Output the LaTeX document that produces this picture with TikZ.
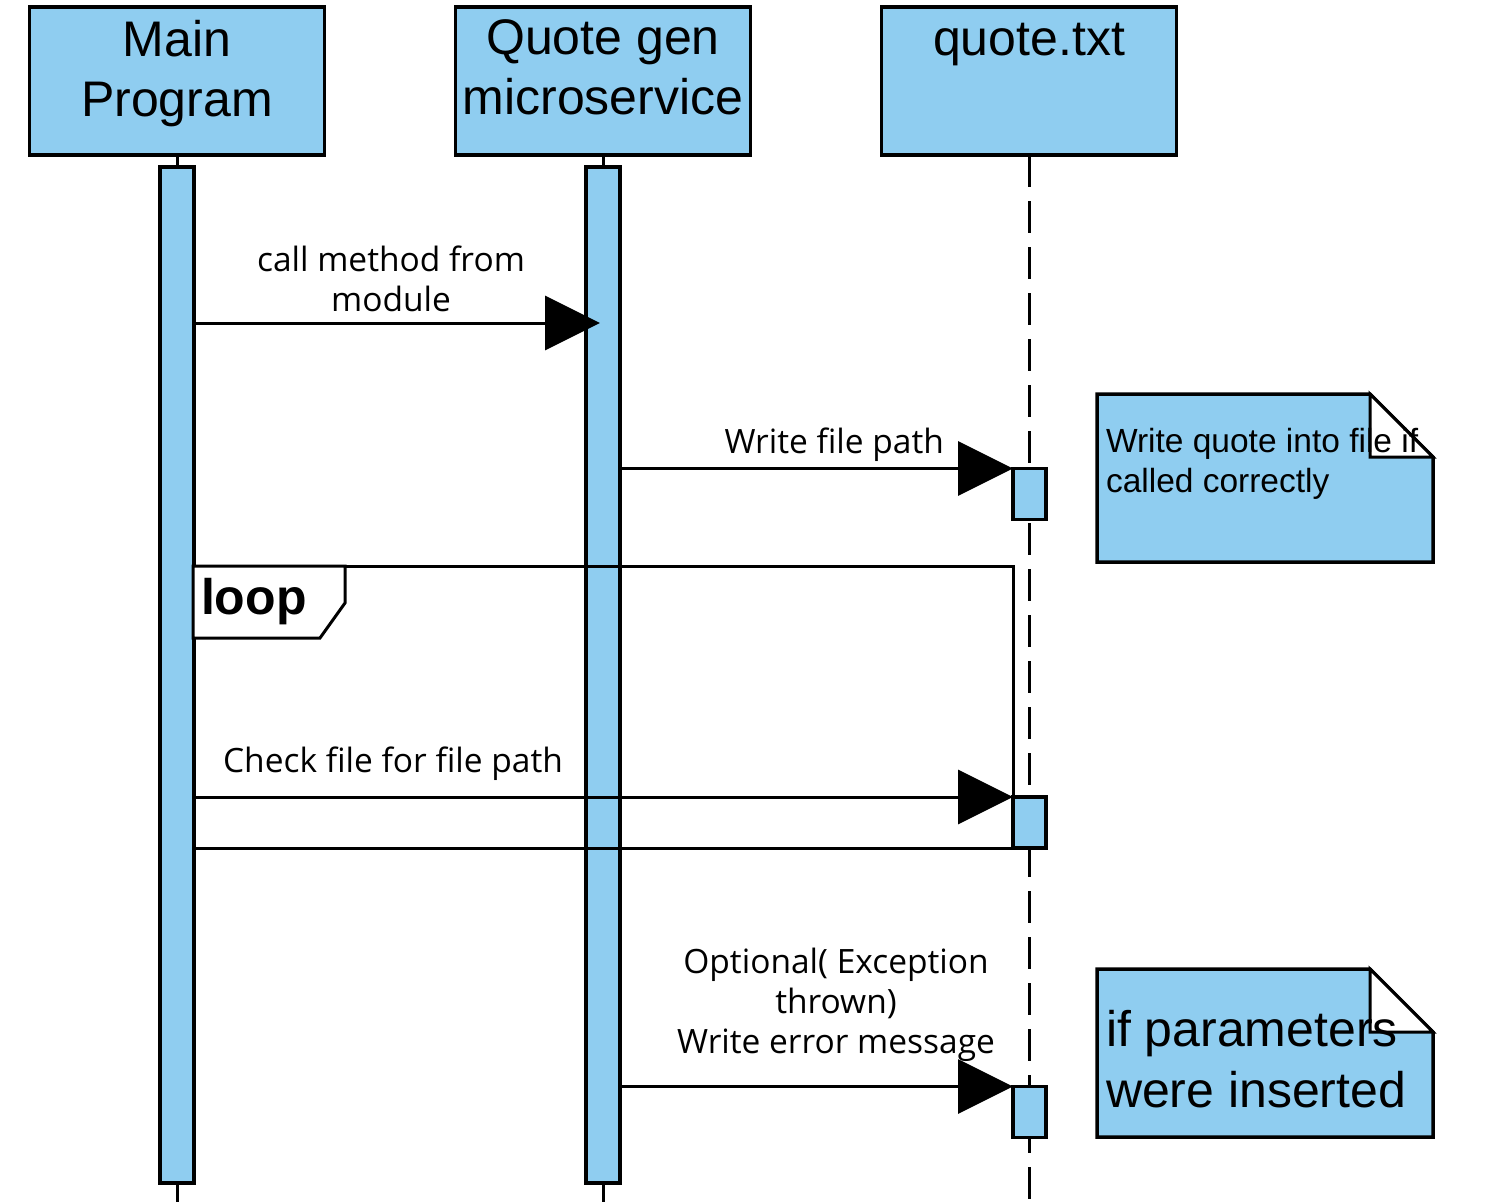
\documentclass[tikz,border=0pt]{standalone}
\usepackage{fontspec}
\setmainfont{Liberation Sans}
\newfontfamily\msgfont{Open Sans}
\usetikzlibrary{arrows.meta}
\definecolor{seqblue}{HTML}{8FCDF0}

\begin{document}
\begin{tikzpicture}[x=1pt,y=-1pt,
      every node/.style={inner sep=0pt,outer sep=0pt},
      head/.style={draw,fill=seqblue,line width=3.5pt,minimum width=295pt,minimum height=148pt},
      headtxt/.style={font=\fontsize{50}{60}\selectfont,align=center},
      bar/.style={draw,fill=seqblue,line width=3.5pt,minimum width=34pt,minimum height=1016pt},
      act/.style={draw,fill=seqblue,line width=3.5pt,minimum width=33pt,minimum height=51pt},
      life/.style={line width=3pt},
      msg/.style={line width=3pt,-{Triangle[length=55pt,width=54pt]}},
      msgtxt/.style={font=\msgfont\fontsize{33.5}{40}\selectfont,align=center},
      notebox/.style={draw,fill=seqblue,line width=3.5pt},
      fold/.style={draw,fill=white,line width=3pt,line join=miter},
      notetxt/.style={align=left,anchor=north west}
    ]
  \useasboundingbox (0,0) rectangle (1496,1202);
  \node[head,label={[headtxt,anchor=north,yshift=-13pt]north:Main\\Program}] (main) at (177,81) {};
  \node[head,label={[headtxt,anchor=north,yshift=-13pt]north:Quote gen\\microservice}] (quotegen) at (603,81) {};
  \node[head,label={[headtxt,anchor=north,yshift=-16pt]north:quote.txt}] (quotetxt) at (1029,81) {};
  \coordinate (mainend) at (177,1202);
  \coordinate (genend) at (603,1202);
  \coordinate (txtend) at (1029,1202);
  \draw[life] (main.south) -- (mainend);
  \draw[life] (quotegen.south) -- (genend);
  \draw[life,dash pattern=on 32pt off 14pt] (quotetxt.south) -- (txtend);
  \node[bar] (mainbar) at (177,675) {};
  \node[bar] (genbar) at (603,675) {};
  \node[draw,line width=3pt,minimum width=820pt,minimum height=282pt] (loop) at (603,707) {};
  \draw[fold] (loop.north west) -- ++(152,0) -- ++(0,37) -- ++(-25,35) -- (loop.north west |- 0,638) -- cycle;
  \node[font=\bfseries\fontsize{50}{60}\selectfont,anchor=west] (looptxt) at (201,602) {loop};
  \node[act] (act1) at (1029.5,494) {};
  \node[act] (act2) at (1029.5,822.5) {};
  \node[act] (act3) at (1029.5,1112) {};
  \coordinate (call) at (600,323);
  \draw[msg] (mainbar.east |- call) -- (call);
  \draw[msg] (genbar.east |- act1.north) -- (act1.north west);
  \draw[msg] (mainbar.east |- act2.north) -- (act2.north west);
  \draw[msg] (genbar.east |- act3.north) -- (act3.north west);
  \node[msgtxt] (calltxt) at (391,279) {call method from\\module};
  \node[msgtxt,anchor=east] (writetxt) at (944,445) {Write file path};
  \node[msgtxt] (checktxt) at (393,764) {Check file for file path};
  \node[msgtxt] (errortxt) at (836,1005) {Optional( Exception\\thrown)\\Write error message};
  \draw[notebox] (1097,394) -- (1370,394) -- (1433,457) -- (1433,562) -- (1097,562) -- cycle;
  \draw[fold] (1370,394) -- (1370,457) -- (1433,457) -- cycle;
  \node[notetxt,font=\fontsize{33.5}{40}\selectfont] (note1) at (1106,428) {Write quote into file if\\called correctly};
  \draw[notebox] (1097,969) -- (1370,969) -- (1433,1032) -- (1433,1137) -- (1097,1137) -- cycle;
  \draw[fold] (1370,969) -- (1370,1032) -- (1433,1032) -- cycle;
  \node[notetxt,font=\fontsize{50}{61}\selectfont] (note2) at (1106,1010) {if parameters\\were inserted};
\end{tikzpicture}
\end{document}
